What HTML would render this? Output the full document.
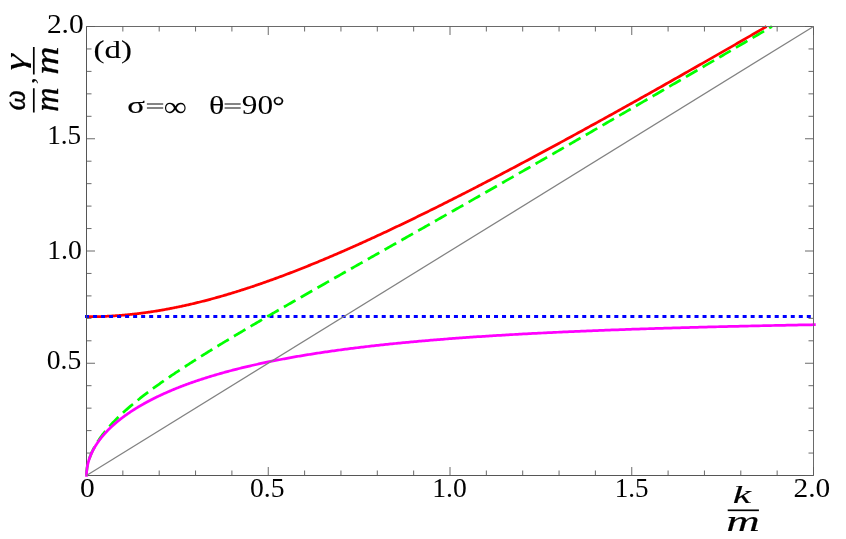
<!DOCTYPE html>
<html><head><meta charset="utf-8"><title>plot</title>
<style>
html,body{margin:0;padding:0;background:#fff;}
svg{display:block}
text{font-family:"Liberation Serif",serif;fill:#000}
.tl text{font-size:28px}
</style></head><body>
<svg width="846" height="539" viewBox="0 0 846 539">
<rect width="846" height="539" fill="#fff"/>
<path d="M86.50 316.75 L86.50 316.75 L86.51 316.75 L86.52 316.75 L86.53 316.75 L86.55 316.75 L86.57 316.75 L86.59 316.75 L86.62 316.75 L86.65 316.75 L86.69 316.75 L86.73 316.75 L86.77 316.75 L86.82 316.75 L86.87 316.75 L86.93 316.75 L86.98 316.75 L87.05 316.75 L87.11 316.75 L87.18 316.75 L87.26 316.75 L87.33 316.75 L87.41 316.75 L87.50 316.75 L87.59 316.75 L87.68 316.75 L87.78 316.75 L87.88 316.75 L87.98 316.75 L88.09 316.75 L88.20 316.75 L88.32 316.75 L88.43 316.75 L88.56 316.75 L88.68 316.75 L88.81 316.75 L88.95 316.75 L89.09 316.75 L89.23 316.75 L89.37 316.74 L89.52 316.74 L89.68 316.74 L89.83 316.74 L89.99 316.74 L90.16 316.74 L90.33 316.74 L90.50 316.74 L90.67 316.73 L90.85 316.73 L91.04 316.73 L91.22 316.73 L91.41 316.73 L91.61 316.72 L91.81 316.72 L92.01 316.72 L92.21 316.72 L92.42 316.71 L92.64 316.71 L92.85 316.71 L93.08 316.70 L93.30 316.70 L93.53 316.70 L93.76 316.69 L94.00 316.69 L94.24 316.68 L94.48 316.68 L94.73 316.67 L94.98 316.67 L95.23 316.66 L95.49 316.66 L95.76 316.65 L96.02 316.65 L96.29 316.64 L96.57 316.63 L96.84 316.63 L97.13 316.62 L97.41 316.61 L97.70 316.60 L97.99 316.60 L98.29 316.59 L98.59 316.58 L98.89 316.57 L99.20 316.56 L99.51 316.55 L99.83 316.54 L100.15 316.53 L100.47 316.52 L100.80 316.51 L101.13 316.50 L101.46 316.49 L101.80 316.47 L102.14 316.46 L102.49 316.45 L102.84 316.43 L103.19 316.42 L103.55 316.41 L103.91 316.39 L104.27 316.38 L104.64 316.36 L105.01 316.34 L105.39 316.33 L105.77 316.31 L106.15 316.29 L106.54 316.27 L106.93 316.25 L107.33 316.23 L107.72 316.21 L108.13 316.19 L108.53 316.17 L108.94 316.15 L109.36 316.13 L109.77 316.11 L110.20 316.08 L110.62 316.06 L111.05 316.03 L111.48 316.01 L111.92 315.98 L112.36 315.95 L112.80 315.93 L113.25 315.90 L113.70 315.87 L114.16 315.84 L114.62 315.81 L115.08 315.78 L115.55 315.74 L116.02 315.71 L116.49 315.68 L116.97 315.64 L117.45 315.61 L117.94 315.57 L118.42 315.53 L118.92 315.50 L119.41 315.46 L119.91 315.42 L120.42 315.38 L120.93 315.34 L121.44 315.29 L121.95 315.25 L122.47 315.21 L123.00 315.16 L123.52 315.12 L124.06 315.07 L124.59 315.02 L125.13 314.97 L125.67 314.92 L126.22 314.87 L126.77 314.82 L127.32 314.77 L127.88 314.71 L128.44 314.66 L129.00 314.60 L129.57 314.54 L130.14 314.48 L130.72 314.42 L131.30 314.36 L131.88 314.30 L132.47 314.24 L133.06 314.17 L133.66 314.10 L134.26 314.04 L134.86 313.97 L135.47 313.90 L136.08 313.83 L136.69 313.76 L137.31 313.68 L137.93 313.61 L138.55 313.53 L139.18 313.45 L139.82 313.38 L140.45 313.30 L141.09 313.21 L141.74 313.13 L142.38 313.05 L143.04 312.96 L143.69 312.87 L144.35 312.78 L145.01 312.69 L145.68 312.60 L146.35 312.51 L147.03 312.41 L147.70 312.32 L148.39 312.22 L149.07 312.12 L149.76 312.02 L150.45 311.91 L151.15 311.81 L151.85 311.70 L152.56 311.60 L153.27 311.49 L153.98 311.38 L154.69 311.26 L155.41 311.15 L156.14 311.03 L156.86 310.91 L157.60 310.79 L158.33 310.67 L159.07 310.55 L159.81 310.42 L160.56 310.30 L161.31 310.17 L162.06 310.04 L162.82 309.90 L163.58 309.77 L164.34 309.63 L165.11 309.50 L165.89 309.36 L166.66 309.21 L167.44 309.07 L168.23 308.92 L169.01 308.78 L169.81 308.63 L170.60 308.47 L171.40 308.32 L172.20 308.16 L173.01 308.00 L173.82 307.84 L174.63 307.68 L175.45 307.52 L176.27 307.35 L177.10 307.18 L177.93 307.01 L178.76 306.84 L179.60 306.66 L180.44 306.48 L181.28 306.31 L182.13 306.12 L182.98 305.94 L183.84 305.75 L184.70 305.56 L185.56 305.37 L186.43 305.18 L187.30 304.98 L188.17 304.79 L189.05 304.59 L189.94 304.38 L190.82 304.18 L191.71 303.97 L192.60 303.76 L193.50 303.55 L194.40 303.33 L195.31 303.12 L196.22 302.90 L197.13 302.68 L198.04 302.45 L198.96 302.22 L199.89 301.99 L200.82 301.76 L201.75 301.53 L202.68 301.29 L203.62 301.05 L204.56 300.81 L205.51 300.56 L206.46 300.32 L207.41 300.07 L208.37 299.81 L209.33 299.56 L210.30 299.30 L211.27 299.04 L212.24 298.78 L213.22 298.51 L214.20 298.24 L215.18 297.97 L216.17 297.70 L217.16 297.42 L218.16 297.14 L219.16 296.86 L220.16 296.57 L221.17 296.29 L222.18 296.00 L223.19 295.70 L224.21 295.41 L225.23 295.11 L226.26 294.81 L227.29 294.50 L228.32 294.19 L229.36 293.88 L230.40 293.57 L231.44 293.25 L232.49 292.94 L233.54 292.61 L234.60 292.29 L235.66 291.96 L236.72 291.63 L237.79 291.30 L238.86 290.96 L239.94 290.62 L241.01 290.28 L242.10 289.93 L243.18 289.59 L244.27 289.23 L245.37 288.88 L246.46 288.52 L247.57 288.16 L248.67 287.80 L249.78 287.43 L250.89 287.06 L252.01 286.69 L253.13 286.32 L254.25 285.94 L255.38 285.56 L256.51 285.17 L257.65 284.78 L258.79 284.39 L259.93 284.00 L261.08 283.60 L262.23 283.20 L263.38 282.80 L264.54 282.39 L265.70 281.98 L266.87 281.57 L268.03 281.15 L269.21 280.74 L270.38 280.31 L271.57 279.89 L272.75 279.46 L273.94 279.03 L275.13 278.59 L276.33 278.16 L277.52 277.71 L278.73 277.27 L279.94 276.82 L281.15 276.37 L282.36 275.92 L283.58 275.46 L284.80 275.00 L286.03 274.54 L287.26 274.07 L288.49 273.60 L289.73 273.13 L290.97 272.65 L292.21 272.17 L293.46 271.69 L294.72 271.20 L295.97 270.71 L297.23 270.22 L298.49 269.73 L299.76 269.23 L301.03 268.73 L302.31 268.22 L303.59 267.71 L304.87 267.20 L306.16 266.68 L307.45 266.17 L308.74 265.64 L310.04 265.12 L311.34 264.59 L312.65 264.06 L313.95 263.52 L315.27 262.99 L316.58 262.44 L317.90 261.90 L319.23 261.35 L320.56 260.80 L321.89 260.24 L323.22 259.69 L324.56 259.13 L325.91 258.56 L327.25 257.99 L328.60 257.42 L329.96 256.85 L331.32 256.27 L332.68 255.69 L334.04 255.10 L335.41 254.52 L336.79 253.93 L338.16 253.33 L339.55 252.73 L340.93 252.13 L342.32 251.53 L343.71 250.92 L345.11 250.31 L346.51 249.70 L347.91 249.08 L349.32 248.46 L350.73 247.84 L352.14 247.21 L353.56 246.58 L354.98 245.94 L356.41 245.31 L357.84 244.67 L359.27 244.02 L360.71 243.38 L362.15 242.73 L363.60 242.07 L365.05 241.42 L366.50 240.76 L367.96 240.09 L369.42 239.43 L370.88 238.76 L372.35 238.08 L373.82 237.41 L375.29 236.73 L376.77 236.04 L378.26 235.36 L379.74 234.67 L381.23 233.97 L382.73 233.28 L384.23 232.58 L385.73 231.88 L387.23 231.17 L388.74 230.46 L390.26 229.75 L391.77 229.03 L393.29 228.31 L394.82 227.59 L396.35 226.86 L397.88 226.13 L399.41 225.40 L400.95 224.67 L402.50 223.93 L404.04 223.19 L405.59 222.44 L407.15 221.69 L408.71 220.94 L410.27 220.19 L411.84 219.43 L413.41 218.67 L414.98 217.90 L416.56 217.13 L418.14 216.36 L419.72 215.59 L421.31 214.81 L422.90 214.03 L424.50 213.25 L426.10 212.46 L427.70 211.67 L429.31 210.87 L430.92 210.08 L432.54 209.28 L434.16 208.47 L435.78 207.67 L437.41 206.86 L439.04 206.05 L440.67 205.23 L442.31 204.41 L443.95 203.59 L445.59 202.76 L447.24 201.93 L448.90 201.10 L450.55 200.27 L452.21 199.43 L453.88 198.59 L455.55 197.74 L457.22 196.89 L458.89 196.04 L460.57 195.19 L462.26 194.33 L463.94 193.47 L465.63 192.61 L467.33 191.74 L469.03 190.87 L470.73 190.00 L472.43 189.12 L474.14 188.24 L475.86 187.36 L477.57 186.47 L479.29 185.58 L481.02 184.69 L482.75 183.80 L484.48 182.90 L486.22 182.00 L487.96 181.09 L489.70 180.19 L491.45 179.28 L493.20 178.36 L494.95 177.44 L496.71 176.53 L498.47 175.60 L500.24 174.68 L502.01 173.75 L503.78 172.81 L505.56 171.88 L507.34 170.94 L509.13 170.00 L510.92 169.06 L512.71 168.11 L514.51 167.16 L516.31 166.20 L518.11 165.25 L519.92 164.29 L521.73 163.32 L523.54 162.36 L525.36 161.39 L527.19 160.42 L529.01 159.44 L530.84 158.46 L532.68 157.48 L534.52 156.50 L536.36 155.51 L538.20 154.52 L540.05 153.53 L541.91 152.53 L543.76 151.53 L545.62 150.53 L547.49 149.53 L549.36 148.52 L551.23 147.51 L553.10 146.49 L554.98 145.47 L556.87 144.45 L558.75 143.43 L560.65 142.40 L562.54 141.38 L564.44 140.34 L566.34 139.31 L568.25 138.27 L570.16 137.23 L572.07 136.18 L573.99 135.14 L575.91 134.09 L577.83 133.03 L579.76 131.98 L581.69 130.92 L583.63 129.86 L585.57 128.79 L587.51 127.73 L589.46 126.65 L591.41 125.58 L593.37 124.50 L595.33 123.43 L597.29 122.34 L599.26 121.26 L601.23 120.17 L603.20 119.08 L605.18 117.98 L607.16 116.89 L609.15 115.79 L611.13 114.68 L613.13 113.58 L615.12 112.47 L617.12 111.36 L619.13 110.24 L621.14 109.13 L623.15 108.01 L625.16 106.88 L627.18 105.76 L629.21 104.63 L631.23 103.50 L633.26 102.36 L635.30 101.22 L637.34 100.08 L639.38 98.94 L641.43 97.80 L643.47 96.65 L645.53 95.49 L647.59 94.34 L649.65 93.18 L651.71 92.02 L653.78 90.86 L655.85 89.69 L657.93 88.52 L660.01 87.35 L662.09 86.18 L664.18 85.00 L666.27 83.82 L668.36 82.64 L670.46 81.45 L672.57 80.26 L674.67 79.07 L676.78 77.88 L678.90 76.68 L681.01 75.48 L683.13 74.27 L685.26 73.07 L687.39 71.86 L689.52 70.65 L691.66 69.43 L693.80 68.22 L695.94 67.00 L698.09 65.78 L700.24 64.55 L702.40 63.32 L704.56 62.09 L706.72 60.86 L708.89 59.62 L711.06 58.38 L713.23 57.14 L715.41 55.89 L717.59 54.65 L719.78 53.40 L721.97 52.14 L724.16 50.89 L726.36 49.63 L728.56 48.37 L730.76 47.10 L732.97 45.84 L735.18 44.57 L737.40 43.29 L739.62 42.02 L741.84 40.74 L744.07 39.46 L746.30 38.18 L748.53 36.89 L750.77 35.60 L753.01 34.31 L755.26 33.01 L757.51 31.72 L759.76 30.42 L762.02 29.11 L764.28 27.81 L766.55 26.50" stroke="#ff0000" stroke-width="2.75" fill="none" stroke-linejoin="round"/>
<path d="M85 316.5 H814.5" stroke="#0000ff" stroke-width="3" fill="none" stroke-dasharray="4.01 4.01"/>
<path d="M86.50 475.50 L86.50 475.07 L86.51 474.64 L86.52 474.20 L86.53 473.77 L86.55 473.34 L86.57 472.91 L86.59 472.47 L86.62 472.04 L86.65 471.61 L86.69 471.17 L86.73 470.74 L86.77 470.31 L86.82 469.87 L86.87 469.44 L86.93 469.00 L86.99 468.57 L87.05 468.13 L87.12 467.70 L87.19 467.26 L87.26 466.83 L87.34 466.39 L87.42 465.96 L87.51 465.52 L87.60 465.08 L87.69 464.65 L87.79 464.21 L87.89 463.77 L87.99 463.34 L88.10 462.90 L88.21 462.46 L88.33 462.02 L88.45 461.59 L88.57 461.15 L88.70 460.71 L88.83 460.27 L88.97 459.83 L89.11 459.39 L89.25 458.95 L89.40 458.51 L89.55 458.07 L89.70 457.63 L89.86 457.19 L90.02 456.75 L90.19 456.30 L90.36 455.86 L90.53 455.42 L90.71 454.98 L90.89 454.53 L91.07 454.09 L91.26 453.65 L91.45 453.20 L91.65 452.76 L91.85 452.31 L92.05 451.87 L92.26 451.42 L92.47 450.97 L92.69 450.53 L92.90 450.08 L93.13 449.63 L93.35 449.19 L93.58 448.74 L93.82 448.29 L94.06 447.84 L94.30 447.39 L94.54 446.94 L94.79 446.50 L95.05 446.04 L95.30 445.59 L95.56 445.14 L95.83 444.69 L96.10 444.24 L96.37 443.79 L96.65 443.34 L96.93 442.88 L97.21 442.43 L97.50 441.98 L97.79 441.52 L98.08 441.07 L98.38 440.61 L98.69 440.16 L98.99 439.70 L99.30 439.25 L99.62 438.79 L99.93 438.33 L100.26 437.87 L100.58 437.42 L100.91 436.96 L101.24 436.50 L101.58 436.04 L101.92 435.58 L102.27 435.12 L102.62 434.66 L102.97 434.20 L103.32 433.74 L103.68 433.28 L104.05 432.81 L104.41 432.35 L104.79 431.89 L105.16 431.42 L105.54 430.96 L105.92 430.50 L106.31 430.03 L106.70 429.57 L107.09 429.10 L107.49 428.63 L107.89 428.17 L108.30 427.70 L108.71 427.23 L109.12 426.77 L109.54 426.30 L109.96 425.83 L110.38 425.36 L110.81 424.89 L111.24 424.42 L111.68 423.95 L112.12 423.48 L112.56 423.00 L113.01 422.53 L113.46 422.06 L113.92 421.59 L114.38 421.11 L114.84 420.64 L115.30 420.16 L115.78 419.69 L116.25 419.21 L116.73 418.74 L117.21 418.26 L117.69 417.78 L118.18 417.31 L118.68 416.83 L119.17 416.35 L119.67 415.87 L120.18 415.39 L120.69 414.91 L121.20 414.43 L121.72 413.95 L122.24 413.46 L122.76 412.98 L123.29 412.50 L123.82 412.01 L124.35 411.53 L124.89 411.04 L125.43 410.56 L125.98 410.07 L126.53 409.59 L127.08 409.10 L127.64 408.61 L128.20 408.12 L128.77 407.63 L129.34 407.14 L129.91 406.65 L130.49 406.16 L131.07 405.67 L131.65 405.18 L132.24 404.68 L132.83 404.19 L133.43 403.69 L134.03 403.20 L134.63 402.70 L135.24 402.20 L135.85 401.71 L136.47 401.21 L137.09 400.71 L137.71 400.21 L138.34 399.71 L138.97 399.21 L139.60 398.70 L140.24 398.20 L140.88 397.70 L141.52 397.19 L142.17 396.69 L142.83 396.18 L143.48 395.67 L144.14 395.17 L144.81 394.66 L145.48 394.15 L146.15 393.64 L146.82 393.12 L147.50 392.61 L148.19 392.10 L148.88 391.59 L149.57 391.07 L150.26 390.55 L150.96 390.04 L151.66 389.52 L152.37 389.00 L153.08 388.48 L153.79 387.96 L154.51 387.44 L155.23 386.92 L155.96 386.39 L156.69 385.87 L157.42 385.35 L158.16 384.82 L158.90 384.29 L159.64 383.76 L160.39 383.23 L161.14 382.70 L161.90 382.17 L162.66 381.64 L163.42 381.11 L164.19 380.57 L164.96 380.04 L165.73 379.50 L166.51 378.96 L167.30 378.43 L168.08 377.89 L168.87 377.35 L169.67 376.80 L170.46 376.26 L171.27 375.72 L172.07 375.17 L172.88 374.63 L173.69 374.08 L174.51 373.53 L175.33 372.98 L176.16 372.43 L176.98 371.88 L177.82 371.33 L178.65 370.77 L179.49 370.22 L180.33 369.66 L181.18 369.10 L182.03 368.54 L182.89 367.98 L183.75 367.42 L184.61 366.86 L185.47 366.30 L186.35 365.73 L187.22 365.16 L188.10 364.60 L188.98 364.03 L189.86 363.46 L190.75 362.89 L191.65 362.32 L192.54 361.74 L193.44 361.17 L194.35 360.59 L195.26 360.01 L196.17 359.44 L197.08 358.86 L198.00 358.27 L198.93 357.69 L199.85 357.11 L200.78 356.52 L201.72 355.94 L202.66 355.35 L203.60 354.76 L204.55 354.17 L205.50 353.58 L206.45 352.98 L207.41 352.39 L208.37 351.79 L209.34 351.19 L210.30 350.60 L211.28 350.00 L212.25 349.39 L213.23 348.79 L214.22 348.19 L215.21 347.58 L216.20 346.97 L217.19 346.37 L218.19 345.76 L219.20 345.14 L220.20 344.53 L221.22 343.92 L222.23 343.30 L223.25 342.68 L224.27 342.06 L225.30 341.44 L226.33 340.82 L227.36 340.20 L228.40 339.57 L229.44 338.95 L230.49 338.32 L231.54 337.69 L232.59 337.06 L233.64 336.43 L234.71 335.79 L235.77 335.16 L236.84 334.52 L237.91 333.88 L238.99 333.24 L240.07 332.60 L241.15 331.96 L242.24 331.31 L243.33 330.67 L244.42 330.02 L245.52 329.37 L246.62 328.72 L247.73 328.07 L248.84 327.41 L249.95 326.76 L251.07 326.10 L252.19 325.44 L253.32 324.78 L254.45 324.12 L255.58 323.45 L256.72 322.79 L257.86 322.12 L259.00 321.45 L260.15 320.78 L261.30 320.11 L262.46 319.43 L263.61 318.76 L264.78 318.08 L265.95 317.40 L267.12 316.72 L268.29 316.04 L269.47 315.35 L270.65 314.67 L271.84 313.98 L273.03 313.29 L274.22 312.60 L275.42 311.90 L276.62 311.21 L277.83 310.51 L279.04 309.81 L280.25 309.11 L281.46 308.41 L282.68 307.71 L283.91 307.00 L285.14 306.30 L286.37 305.59 L287.60 304.88 L288.84 304.16 L290.09 303.45 L291.33 302.73 L292.59 302.01 L293.84 301.29 L295.10 300.57 L296.36 299.85 L297.63 299.12 L298.90 298.40 L300.17 297.67 L301.45 296.94 L302.73 296.20 L304.01 295.47 L305.30 294.73 L306.60 293.99 L307.89 293.25 L309.19 292.51 L310.50 291.76 L311.81 291.02 L313.12 290.27 L314.43 289.52 L315.75 288.77 L317.08 288.01 L318.40 287.26 L319.73 286.50 L321.07 285.74 L322.41 284.98 L323.75 284.22 L325.10 283.45 L326.45 282.68 L327.80 281.91 L329.16 281.14 L330.52 280.37 L331.88 279.59 L333.25 278.82 L334.62 278.04 L336.00 277.25 L337.38 276.47 L338.77 275.69 L340.15 274.90 L341.55 274.11 L342.94 273.32 L344.34 272.52 L345.74 271.73 L347.15 270.93 L348.56 270.13 L349.98 269.33 L351.39 268.52 L352.82 267.72 L354.24 266.91 L355.67 266.10 L357.11 265.29 L358.54 264.47 L359.99 263.66 L361.43 262.84 L362.88 262.02 L364.33 261.20 L365.79 260.37 L367.25 259.55 L368.71 258.72 L370.18 257.89 L371.65 257.05 L373.13 256.22 L374.61 255.38 L376.09 254.54 L377.58 253.70 L379.07 252.86 L380.56 252.01 L382.06 251.16 L383.56 250.31 L385.07 249.46 L386.58 248.60 L388.09 247.75 L389.61 246.89 L391.13 246.03 L392.66 245.16 L394.19 244.30 L395.72 243.43 L397.26 242.56 L398.80 241.69 L400.34 240.82 L401.89 239.94 L403.44 239.06 L404.99 238.18 L406.55 237.30 L408.12 236.41 L409.68 235.53 L411.25 234.64 L412.83 233.74 L414.41 232.85 L415.99 231.95 L417.58 231.05 L419.17 230.15 L420.76 229.25 L422.36 228.35 L423.96 227.44 L425.56 226.53 L427.17 225.62 L428.78 224.70 L430.40 223.79 L432.02 222.87 L433.65 221.95 L435.27 221.02 L436.90 220.10 L438.54 219.17 L440.18 218.24 L441.82 217.31 L443.47 216.37 L445.12 215.43 L446.78 214.50 L448.43 213.55 L450.10 212.61 L451.76 211.66 L453.43 210.72 L455.10 209.76 L456.78 208.81 L458.46 207.86 L460.15 206.90 L461.84 205.94 L463.53 204.98 L465.23 204.01 L466.93 203.04 L468.63 202.07 L470.34 201.10 L472.05 200.13 L473.77 199.15 L475.48 198.17 L477.21 197.19 L478.93 196.21 L480.67 195.22 L482.40 194.23 L484.14 193.24 L485.88 192.25 L487.63 191.26 L489.38 190.26 L491.13 189.26 L492.89 188.26 L494.65 187.25 L496.41 186.24 L498.18 185.23 L499.95 184.22 L501.73 183.21 L503.51 182.19 L505.29 181.17 L507.08 180.15 L508.87 179.13 L510.67 178.10 L512.47 177.07 L514.27 176.04 L516.08 175.01 L517.89 173.97 L519.70 172.93 L521.52 171.89 L523.34 170.85 L525.17 169.81 L527.00 168.76 L528.83 167.71 L530.67 166.65 L532.51 165.60 L534.36 164.54 L536.21 163.48 L538.06 162.42 L539.91 161.36 L541.77 160.29 L543.64 159.22 L545.51 158.15 L547.38 157.07 L549.25 156.00 L551.13 154.92 L553.02 153.83 L554.90 152.75 L556.79 151.66 L558.69 150.57 L560.59 149.48 L562.49 148.39 L564.39 147.29 L566.30 146.19 L568.22 145.09 L570.13 143.99 L572.05 142.88 L573.98 141.77 L575.91 140.66 L577.84 139.55 L579.78 138.43 L581.72 137.32 L583.66 136.19 L585.61 135.07 L587.56 133.95 L589.52 132.82 L591.48 131.69 L593.44 130.55 L595.41 129.42 L597.38 128.28 L599.35 127.14 L601.33 126.00 L603.31 124.85 L605.30 123.70 L607.29 122.55 L609.28 121.40 L611.28 120.24 L613.28 119.09 L615.28 117.93 L617.29 116.76 L619.30 115.60 L621.32 114.43 L623.34 113.26 L625.36 112.09 L627.39 110.91 L629.42 109.73 L631.46 108.55 L633.50 107.37 L635.54 106.19 L637.59 105.00 L639.64 103.81 L641.69 102.62 L643.75 101.42 L645.81 100.22 L647.88 99.02 L649.95 97.82 L652.02 96.62 L654.10 95.41 L656.18 94.20 L658.26 92.99 L660.35 91.77 L662.45 90.55 L664.54 89.33 L666.64 88.11 L668.75 86.89 L670.85 85.66 L672.96 84.43 L675.08 83.20 L677.20 81.96 L679.32 80.72 L681.45 79.48 L683.58 78.24 L685.71 77.00 L687.85 75.75 L689.99 74.50 L692.14 73.25 L694.29 71.99 L696.44 70.74 L698.60 69.48 L700.76 68.21 L702.92 66.95 L705.09 65.68 L707.27 64.41 L709.44 63.14 L711.62 61.86 L713.81 60.59 L715.99 59.31 L718.19 58.02 L720.38 56.74 L722.58 55.45 L724.78 54.16 L726.99 52.87 L729.20 51.57 L731.41 50.28 L733.63 48.98 L735.85 47.67 L738.08 46.37 L740.31 45.06 L742.54 43.75 L744.78 42.44 L747.02 41.12 L749.27 39.81 L751.51 38.49 L753.77 37.16 L756.02 35.84 L758.28 34.51 L760.55 33.18 L762.81 31.85 L765.09 30.51 L767.36 29.18 L769.64 27.84 L771.92 26.49" stroke="#00ff00" stroke-width="2.75" fill="none" stroke-dasharray="13.3 6.0" stroke-dashoffset="2.63" stroke-linejoin="round"/>
<path d="M86.5 26.5 V475.5 H813.5" fill="none" stroke="#565656" stroke-width="1"/>
<path d="M86.5 26.5 H813.5 V475.5" fill="none" stroke="#6a6a6a" stroke-width="1"/>
<path d="M86.50 475.50 v-8.50M86.50 26.50 v8.50M86.50 475.50 h8.50M813.50 475.50 h-8.50M122.85 475.50 v-5.00M122.85 26.50 v5.00M86.50 453.05 h5.00M813.50 453.05 h-5.00M159.20 475.50 v-5.00M159.20 26.50 v5.00M86.50 430.60 h5.00M813.50 430.60 h-5.00M195.55 475.50 v-5.00M195.55 26.50 v5.00M86.50 408.15 h5.00M813.50 408.15 h-5.00M231.90 475.50 v-5.00M231.90 26.50 v5.00M86.50 385.70 h5.00M813.50 385.70 h-5.00M268.25 475.50 v-8.50M268.25 26.50 v8.50M86.50 363.25 h8.50M813.50 363.25 h-8.50M304.60 475.50 v-5.00M304.60 26.50 v5.00M86.50 340.80 h5.00M813.50 340.80 h-5.00M340.95 475.50 v-5.00M340.95 26.50 v5.00M86.50 318.35 h5.00M813.50 318.35 h-5.00M377.30 475.50 v-5.00M377.30 26.50 v5.00M86.50 295.90 h5.00M813.50 295.90 h-5.00M413.65 475.50 v-5.00M413.65 26.50 v5.00M86.50 273.45 h5.00M813.50 273.45 h-5.00M450.00 475.50 v-8.50M450.00 26.50 v8.50M86.50 251.00 h8.50M813.50 251.00 h-8.50M486.35 475.50 v-5.00M486.35 26.50 v5.00M86.50 228.55 h5.00M813.50 228.55 h-5.00M522.70 475.50 v-5.00M522.70 26.50 v5.00M86.50 206.10 h5.00M813.50 206.10 h-5.00M559.05 475.50 v-5.00M559.05 26.50 v5.00M86.50 183.65 h5.00M813.50 183.65 h-5.00M595.40 475.50 v-5.00M595.40 26.50 v5.00M86.50 161.20 h5.00M813.50 161.20 h-5.00M631.75 475.50 v-8.50M631.75 26.50 v8.50M86.50 138.75 h8.50M813.50 138.75 h-8.50M668.10 475.50 v-5.00M668.10 26.50 v5.00M86.50 116.30 h5.00M813.50 116.30 h-5.00M704.45 475.50 v-5.00M704.45 26.50 v5.00M86.50 93.85 h5.00M813.50 93.85 h-5.00M740.80 475.50 v-5.00M740.80 26.50 v5.00M86.50 71.40 h5.00M813.50 71.40 h-5.00M777.15 475.50 v-5.00M777.15 26.50 v5.00M86.50 48.95 h5.00M813.50 48.95 h-5.00M813.50 475.50 v-8.50M813.50 26.50 v8.50M86.50 26.50 h8.50M813.50 26.50 h-8.50" stroke="#5a5a5a" stroke-width="0.9" fill="none"/>
<path d="M86.50 476.80 L86.50 475.50 L86.50 475.05 L86.51 474.61 L86.52 474.16 L86.53 473.72 L86.55 473.27 L86.57 472.83 L86.60 472.38 L86.63 471.94 L86.66 471.49 L86.70 471.05 L86.74 470.60 L86.79 470.16 L86.84 469.71 L86.90 469.27 L86.95 468.82 L87.02 468.37 L87.08 467.93 L87.15 467.48 L87.23 467.04 L87.31 466.59 L87.39 466.15 L87.48 465.70 L87.57 465.26 L87.66 464.81 L87.76 464.36 L87.87 463.92 L87.97 463.47 L88.08 463.03 L88.20 462.58 L88.32 462.14 L88.44 461.69 L88.57 461.25 L88.70 460.80 L88.83 460.36 L88.97 459.92 L89.12 459.47 L89.26 459.03 L89.42 458.58 L89.57 458.14 L89.73 457.69 L89.89 457.25 L90.06 456.81 L90.23 456.36 L90.41 455.92 L90.59 455.48 L90.77 455.03 L90.96 454.59 L91.15 454.15 L91.35 453.71 L91.55 453.26 L91.75 452.82 L91.96 452.38 L92.17 451.94 L92.39 451.50 L92.61 451.06 L92.83 450.61 L93.06 450.17 L93.29 449.73 L93.53 449.29 L93.77 448.85 L94.01 448.41 L94.26 447.97 L94.52 447.53 L94.77 447.09 L95.03 446.66 L95.30 446.22 L95.57 445.78 L95.84 445.34 L96.11 444.90 L96.40 444.47 L96.68 444.03 L96.97 443.59 L97.26 443.16 L97.56 442.72 L97.86 442.28 L98.16 441.85 L98.47 441.41 L98.79 440.98 L99.10 440.54 L99.42 440.11 L99.75 439.68 L100.08 439.24 L100.41 438.81 L100.75 438.38 L101.09 437.95 L101.44 437.51 L101.79 437.08 L102.14 436.65 L102.50 436.22 L102.86 435.79 L103.22 435.36 L103.59 434.93 L103.97 434.50 L104.34 434.07 L104.73 433.65 L105.11 433.22 L105.50 432.79 L105.89 432.36 L106.29 431.94 L106.69 431.51 L107.10 431.09 L107.51 430.66 L107.92 430.24 L108.34 429.81 L108.76 429.39 L109.19 428.97 L109.62 428.55 L110.05 428.12 L110.49 427.70 L110.94 427.28 L111.38 426.86 L111.83 426.44 L112.29 426.02 L112.74 425.60 L113.21 425.19 L113.67 424.77 L114.14 424.35 L114.62 423.93 L115.10 423.52 L115.58 423.10 L116.07 422.69 L116.56 422.27 L117.05 421.86 L117.55 421.45 L118.05 421.04 L118.56 420.62 L119.07 420.21 L119.59 419.80 L120.11 419.39 L120.63 418.98 L121.16 418.57 L121.69 418.17 L122.22 417.76 L122.76 417.35 L123.30 416.95 L123.85 416.54 L124.40 416.14 L124.96 415.73 L125.52 415.33 L126.08 414.93 L126.65 414.52 L127.22 414.12 L127.80 413.72 L128.38 413.32 L128.96 412.92 L129.55 412.53 L130.14 412.13 L130.73 411.73 L131.33 411.33 L131.94 410.94 L132.55 410.54 L133.16 410.15 L133.77 409.76 L134.39 409.36 L135.02 408.97 L135.65 408.58 L136.28 408.19 L136.91 407.80 L137.55 407.41 L138.20 407.02 L138.85 406.64 L139.50 406.25 L140.15 405.86 L140.81 405.48 L141.48 405.09 L142.15 404.71 L142.82 404.33 L143.50 403.95 L144.18 403.57 L144.86 403.19 L145.55 402.81 L146.24 402.43 L146.94 402.05 L147.64 401.67 L148.35 401.30 L149.05 400.92 L149.77 400.55 L150.48 400.17 L151.21 399.80 L151.93 399.43 L152.66 399.06 L153.39 398.69 L154.13 398.32 L154.87 397.95 L155.62 397.58 L156.36 397.22 L157.12 396.85 L157.88 396.49 L158.64 396.12 L159.40 395.76 L160.17 395.40 L160.94 395.04 L161.72 394.68 L162.50 394.32 L163.29 393.96 L164.08 393.60 L164.87 393.25 L165.67 392.89 L166.47 392.54 L167.28 392.18 L168.09 391.83 L168.90 391.48 L169.72 391.13 L170.54 390.78 L171.37 390.43 L172.20 390.08 L173.03 389.73 L173.87 389.39 L174.71 389.04 L175.56 388.70 L176.41 388.35 L177.26 388.01 L178.12 387.67 L178.98 387.33 L179.85 386.99 L180.72 386.65 L181.59 386.31 L182.47 385.98 L183.35 385.64 L184.24 385.31 L185.13 384.97 L186.03 384.64 L186.92 384.31 L187.83 383.98 L188.73 383.65 L189.65 383.32 L190.56 382.99 L191.48 382.67 L192.40 382.34 L193.33 382.02 L194.26 381.69 L195.19 381.37 L196.13 381.05 L197.08 380.73 L198.02 380.41 L198.97 380.09 L199.93 379.78 L200.89 379.46 L201.85 379.14 L202.82 378.83 L203.79 378.52 L204.77 378.21 L205.75 377.89 L206.73 377.58 L207.72 377.28 L208.71 376.97 L209.70 376.66 L210.70 376.36 L211.71 376.05 L212.72 375.75 L213.73 375.44 L214.74 375.14 L215.76 374.84 L216.79 374.54 L217.81 374.24 L218.85 373.95 L219.88 373.65 L220.92 373.36 L221.97 373.06 L223.01 372.77 L224.07 372.48 L225.12 372.19 L226.18 371.90 L227.25 371.61 L228.32 371.32 L229.39 371.03 L230.46 370.75 L231.54 370.46 L232.63 370.18 L233.72 369.90 L234.81 369.62 L235.91 369.34 L237.01 369.06 L238.11 368.78 L239.22 368.50 L240.33 368.23 L241.45 367.95 L242.57 367.68 L243.70 367.40 L244.82 367.13 L245.96 366.86 L247.09 366.59 L248.24 366.32 L249.38 366.06 L250.53 365.79 L251.68 365.53 L252.84 365.26 L254.00 365.00 L255.17 364.74 L256.34 364.48 L257.51 364.22 L258.69 363.96 L259.87 363.70 L261.05 363.44 L262.24 363.19 L263.44 362.93 L264.63 362.68 L265.83 362.43 L267.04 362.18 L268.25 361.93 L269.46 361.68 L270.68 361.43 L271.90 361.19 L273.13 360.94 L274.36 360.69 L275.59 360.45 L276.83 360.21 L278.07 359.97 L279.32 359.73 L280.57 359.49 L281.82 359.25 L283.08 359.01 L284.34 358.78 L285.61 358.54 L286.88 358.31 L288.15 358.07 L289.43 357.84 L290.71 357.61 L292.00 357.38 L293.29 357.15 L294.59 356.93 L295.88 356.70 L297.19 356.47 L298.49 356.25 L299.80 356.03 L301.12 355.80 L302.44 355.58 L303.76 355.36 L305.09 355.14 L306.42 354.92 L307.75 354.71 L309.09 354.49 L310.43 354.28 L311.78 354.06 L313.13 353.85 L314.49 353.64 L315.85 353.43 L317.21 353.22 L318.58 353.01 L319.95 352.80 L321.32 352.59 L322.70 352.39 L324.09 352.18 L325.47 351.98 L326.86 351.78 L328.26 351.57 L329.66 351.37 L331.06 351.17 L332.47 350.98 L333.88 350.78 L335.30 350.58 L336.72 350.39 L338.14 350.19 L339.57 350.00 L341.00 349.80 L342.44 349.61 L343.88 349.42 L345.32 349.23 L346.77 349.04 L348.22 348.86 L349.68 348.67 L351.14 348.48 L352.60 348.30 L354.07 348.11 L355.54 347.93 L357.02 347.75 L358.50 347.57 L359.98 347.39 L361.47 347.21 L362.96 347.03 L364.46 346.85 L365.96 346.68 L367.46 346.50 L368.97 346.33 L370.48 346.15 L372.00 345.98 L373.52 345.81 L375.05 345.64 L376.58 345.47 L378.11 345.30 L379.64 345.13 L381.19 344.97 L382.73 344.80 L384.28 344.63 L385.83 344.47 L387.39 344.31 L388.95 344.14 L390.52 343.98 L392.08 343.82 L393.66 343.66 L395.23 343.50 L396.82 343.35 L398.40 343.19 L399.99 343.03 L401.58 342.88 L403.18 342.72 L404.78 342.57 L406.39 342.42 L408.00 342.26 L409.61 342.11 L411.23 341.96 L412.85 341.81 L414.48 341.67 L416.11 341.52 L417.74 341.37 L419.38 341.23 L421.02 341.08 L422.66 340.94 L424.31 340.79 L425.97 340.65 L427.63 340.51 L429.29 340.37 L430.95 340.23 L432.62 340.09 L434.30 339.95 L435.98 339.81 L437.66 339.68 L439.35 339.54 L441.04 339.40 L442.73 339.27 L444.43 339.14 L446.13 339.00 L447.84 338.87 L449.55 338.74 L451.26 338.61 L452.98 338.48 L454.70 338.35 L456.43 338.22 L458.16 338.09 L459.90 337.97 L461.63 337.84 L463.38 337.72 L465.12 337.59 L466.87 337.47 L468.63 337.35 L470.39 337.22 L472.15 337.10 L473.92 336.98 L475.69 336.86 L477.46 336.74 L479.24 336.62 L481.03 336.51 L482.81 336.39 L484.61 336.27 L486.40 336.16 L488.20 336.04 L490.00 335.93 L491.81 335.81 L493.62 335.70 L495.44 335.59 L497.26 335.48 L499.08 335.37 L500.91 335.26 L502.74 335.15 L504.58 335.04 L506.42 334.93 L508.26 334.82 L510.11 334.71 L511.96 334.61 L513.81 334.50 L515.67 334.40 L517.54 334.29 L519.41 334.19 L521.28 334.09 L523.15 333.98 L525.03 333.88 L526.92 333.78 L528.81 333.68 L530.70 333.58 L532.60 333.48 L534.50 333.38 L536.40 333.29 L538.31 333.19 L540.22 333.09 L542.14 333.00 L544.06 332.90 L545.98 332.81 L547.91 332.71 L549.84 332.62 L551.78 332.52 L553.72 332.43 L555.67 332.34 L557.61 332.25 L559.57 332.16 L561.52 332.07 L563.48 331.98 L565.45 331.89 L567.42 331.80 L569.39 331.71 L571.37 331.62 L573.35 331.54 L575.33 331.45 L577.32 331.36 L579.32 331.28 L581.31 331.19 L583.32 331.11 L585.32 331.03 L587.33 330.94 L589.34 330.86 L591.36 330.78 L593.38 330.70 L595.41 330.62 L597.44 330.54 L599.47 330.46 L601.51 330.38 L603.55 330.30 L605.60 330.22 L607.65 330.14 L609.70 330.06 L611.76 329.99 L613.82 329.91 L615.89 329.83 L617.96 329.76 L620.03 329.68 L622.11 329.61 L624.19 329.53 L626.28 329.46 L628.37 329.39 L630.46 329.31 L632.56 329.24 L634.66 329.17 L636.77 329.10 L638.88 329.03 L640.99 328.96 L643.11 328.89 L645.23 328.82 L647.36 328.75 L649.49 328.68 L651.62 328.61 L653.76 328.54 L655.90 328.48 L658.05 328.41 L660.20 328.34 L662.36 328.28 L664.52 328.21 L666.68 328.15 L668.85 328.08 L671.02 328.02 L673.19 327.95 L675.37 327.89 L677.55 327.83 L679.74 327.76 L681.93 327.70 L684.13 327.64 L686.33 327.58 L688.53 327.51 L690.74 327.45 L692.95 327.39 L695.16 327.33 L697.38 327.27 L699.61 327.21 L701.83 327.16 L704.06 327.10 L706.30 327.04 L708.54 326.98 L710.78 326.92 L713.03 326.87 L715.28 326.81 L717.54 326.75 L719.80 326.70 L722.06 326.64 L724.33 326.59 L726.60 326.53 L728.88 326.48 L731.16 326.42 L733.44 326.37 L735.73 326.31 L738.02 326.26 L740.32 326.21 L742.62 326.16 L744.92 326.10 L747.23 326.05 L749.54 326.00 L751.86 325.95 L754.18 325.90 L756.50 325.85 L758.83 325.80 L761.16 325.75 L763.50 325.70 L765.84 325.65 L768.19 325.60 L770.53 325.55 L772.89 325.50 L775.24 325.45 L777.60 325.41 L779.97 325.36 L782.34 325.31 L784.71 325.26 L787.09 325.22 L789.47 325.17 L791.85 325.12 L794.24 325.08 L796.64 325.03 L799.03 324.99 L801.43 324.94 L803.84 324.90 L806.25 324.85 L808.66 324.81 L811.08 324.77 L813.50 324.72 L815.70 324.70" stroke="#ff00ff" stroke-width="2.75" fill="none" stroke-linejoin="round"/>
<path d="M86.5 475.5 L813.5 26.5" stroke="#828282" stroke-width="1.25" fill="none"/>
<path d="M813.5 300 V350" fill="none" stroke="#6a6a6a" stroke-width="1" opacity="0.8"/>
<g opacity="0.999">
<text transform="matrix(0.3300 0 0 0.2542 93.475 58.401)" style="font-size:100px;stroke:#000;stroke-width:0.41px;stroke-linejoin:round;">(d)</text>
<text transform="matrix(0.3278 0 0 0.2250 127.289 112.575)" style="font-size:100px;stroke:#000;stroke-width:0.72px;stroke-linejoin:round;">σ</text>
<text transform="matrix(0.3244 0 0 0.2789 163.702 115.789)" style="font-size:100px;">∞</text>
<text transform="matrix(0.3205 0 0 0.2535 209.108 114.296)" style="font-size:100px;stroke:#000;stroke-width:0.35px;stroke-linejoin:round;">θ</text>
<text transform="matrix(0.3129 0 0 0.2681 241.761 114.332)" style="font-size:100px;">90</text>
<text transform="matrix(0.3117 0 0 0.2836 272.317 114.835)" style="font-size:100px;stroke:#000;stroke-width:0.50px;stroke-linejoin:round;">°</text>
<text transform="matrix(0.4105 0 0 0.2500 732.844 502.825)" style="font-size:100px;font-style:italic;stroke:#000;stroke-width:0.45px;stroke-linejoin:round;">k</text>
<text transform="matrix(0.4643 0 0 0.2871 726.150 531.369)" style="font-size:100px;font-style:italic;stroke:#000;stroke-width:0.40px;stroke-linejoin:round;">m</text>
<text transform="matrix(0 -0.2920 0.3232 0 25.202 110.547)" style="font-size:100px;font-style:italic;stroke:#000;stroke-width:1.14px;stroke-linejoin:round;">ω</text>
<text transform="matrix(0 -0.3372 0.3366 0 57.993 111.805)" style="font-size:100px;font-style:italic;stroke:#000;stroke-width:1.04px;stroke-linejoin:round;">m</text>
<text transform="matrix(0 -0.4203 0.2992 0 24.966 70.391)" style="font-size:100px;font-style:italic;stroke:#000;stroke-width:0.28px;stroke-linejoin:round;">γ</text>
<text transform="matrix(0 -0.3915 0.3366 0 57.993 74.795)" style="font-size:100px;font-style:italic;stroke:#000;stroke-width:0.96px;stroke-linejoin:round;">m</text>
<text transform="matrix(0 -0.2828 0.2314 0 33.629 84.131)" style="font-size:100px;">,</text>
<text transform="matrix(0.2944 0 0 0.2706 46.875 32.994)" style="font-size:100px;">2.0</text>
<text transform="matrix(0.2719 0 0 0.2731 47.203 143.690)" style="font-size:100px;">1.5</text>
<text transform="matrix(0.2772 0 0 0.2691 47.155 258.696)" style="font-size:100px;">1.0</text>
<text transform="matrix(0.2761 0 0 0.2735 46.696 369.490)" style="font-size:100px;">0.5</text>
<text transform="matrix(0.2952 0 0 0.2711 80.019 496.829)" style="font-size:100px;">0</text>
<text transform="matrix(0.2761 0 0 0.2691 249.996 496.696)" style="font-size:100px;">0.5</text>
<text transform="matrix(0.2768 0 0 0.2691 432.209 496.696)" style="font-size:100px;">1.0</text>
<text transform="matrix(0.2705 0 0 0.2716 614.765 496.693)" style="font-size:100px;">1.5</text>
<text transform="matrix(0.2940 0 0 0.2691 793.477 496.696)" style="font-size:100px;">2.0</text>
</g>
<path d="M146.9 103.95 H163.2 M146.9 108.05 H163.2 M224.6 103.95 H240.7 M224.6 108.05 H240.7" stroke="#5c5c5c" stroke-width="1.6"/>
<path d="M727.7 510.3 H758.9" stroke="#000" stroke-width="1.7"/>
<path d="M33.8 88.2 V112.4 M33.8 47.1 V74.4" stroke="#000" stroke-width="1.7"/>
</svg>
</body></html>
